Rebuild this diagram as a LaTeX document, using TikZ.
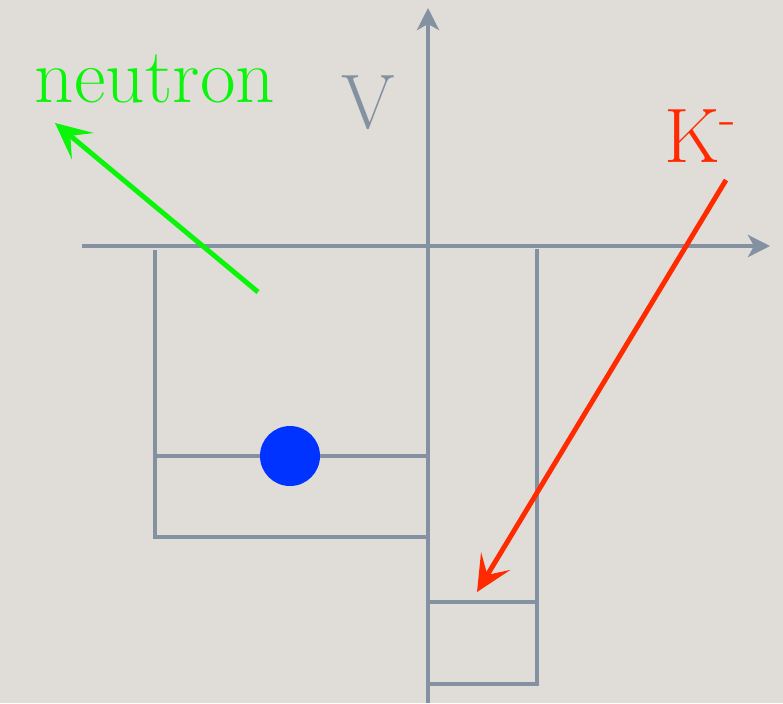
\documentclass[tikz,border=0pt]{standalone}
\usetikzlibrary{arrows.meta}
\definecolor{paper}{RGB}{224,221,216}
\definecolor{axisgray}{RGB}{131,145,160}
\definecolor{dotblue}{RGB}{0,51,255}
\definecolor{kaonred}{RGB}{255,42,0}
\definecolor{neutrongreen}{RGB}{10,245,10}
\tikzset{
    axis/.style={axisgray, line width=1.2pt, -{Stealth[length=2.2mm,width=2.2mm,inset=0.6mm]}},
    well/.style={axisgray, line width=1.1pt},
    label/.style={font=\fontsize{22}{26}\selectfont, inner sep=0pt, anchor=base},
    track/.style={line width=1.4pt, -{Stealth[length=3.6mm,width=3.4mm,inset=1.6mm]}}
}
\begin{document}
\begin{tikzpicture}
    \fill[paper] (0,0) rectangle (7.83,7.03);
    \useasboundingbox (0,0) rectangle (7.83,7.03);
    % Axes
    \coordinate (xstart) at (0.82,4.57);
    \coordinate (xend) at (7.70,4.57);
    \coordinate (ystart) at (4.28,0);
    \coordinate (yend) at (4.28,6.95);
    \draw[axis] (xstart) -- (xend);
    \draw[axis] (ystart) -- (yend);
    \node[label, text=axisgray] (vlabel) at (3.68,5.75) {V};
    % Left well (neutron)
    \draw[well] (1.55,4.53) -- (1.55,1.66) -- (4.28,1.66);
    \draw[well] (1.55,2.47) -- (4.28,2.47);
    \fill[dotblue] (2.90,2.47) circle (0.30);
    % Right well (kaon)
    \draw[well] (5.37,4.54) -- (5.37,0.19) -- (4.28,0.19);
    \draw[well] (4.28,1.01) -- (5.37,1.01);
    % Outgoing neutron
    \node[label, text=neutrongreen] (neutron) at (1.55,6.01) {neutron};
    \coordinate (nstart) at (2.58,4.11);
    \coordinate (nend) at (0.55,5.80);
    \draw[track, neutrongreen] (nstart) -- (nend);
    % Incoming kaon
    \node[label, text=kaonred] (kaon) at (7.01,5.41) {K\textsuperscript{-}};
    \coordinate (kstart) at (7.26,5.23);
    \coordinate (kend) at (4.77,1.11);
    \draw[track, kaonred] (kstart) -- (kend);
\end{tikzpicture}
\end{document}
